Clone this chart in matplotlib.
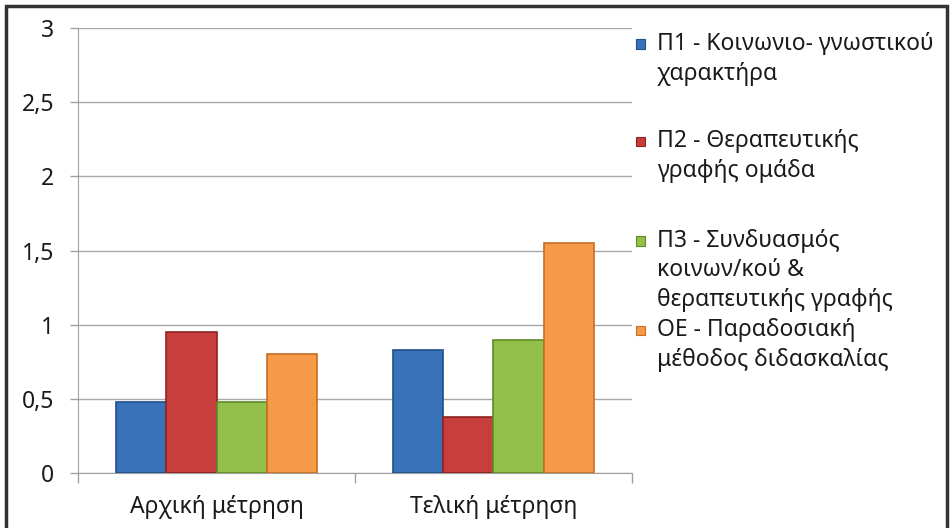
import matplotlib
matplotlib.use("Agg")
import matplotlib.pyplot as plt
from matplotlib.patches import Rectangle
import numpy as np

plt.rcParams['font.family'] = ['Noto Sans', 'DejaVu Sans']

categories = ["Αρχική μέτρηση", "Τελική μέτρηση"]
series_names = ["Π1 - Κοινωνιο- γνωστικού\nχαρακτήρα",
                "Π2 - Θεραπευτικής\nγραφής ομάδα",
                "Π3 - Συνδυασμός\nκοινων/κού &\nθεραπευτικής γραφής",
                "ΟΕ - Παραδοσιακή\nμέθοδος διδασκαλίας"]
p1 = [0.48, 0.83]
p2 = [0.95, 0.38]
p3 = [0.48, 0.90]
oe = [0.80, 1.55]
yticks = [0, 0.5, 1, 1.5, 2, 2.5, 3]
ytick_labels = ["0", "0,5", "1", "1,5", "2", "2,5", "3"]

colors = ["#3A72BA", "#C83E3C", "#93C04A", "#F69A4A"]
edges = ["#1F4E8C", "#8E2422", "#5F8A25", "#C86E24"]
fs = 16.5

W, H = 953, 528
fig = plt.figure(figsize=(W / 100, H / 100), dpi=100)
fig.patch.set_facecolor("white")

ax = fig.add_axes([78 / W, 1 - 473 / H, (632 - 78) / W, (473 - 28) / H])
x = np.arange(len(categories))
bw = 0.1815
for i, vals in enumerate([p1, p2, p3, oe]):
    ax.bar(x + (i - 1.5) * bw, vals, width=bw, color=colors[i],
           edgecolor=edges[i], linewidth=1.2, zorder=3)

ax.set_xlim(-0.5, 1.5)
ax.set_ylim(0, 3)
ax.set_yticks(yticks)
ax.set_yticklabels(ytick_labels, fontsize=fs, color="#1a1a1a")
ax.set_xticks([-0.5, 0.5, 1.5])
ax.set_xticks(x, minor=True)
ax.set_xticklabels(["", "", ""])
ax.set_xticklabels(categories, minor=True, fontsize=fs, color="#1a1a1a")
ax.tick_params(axis="x", which="minor", length=0, pad=16)
ax.tick_params(axis="x", which="major", length=7, color="#A0A0A0", width=1)
ax.tick_params(axis="y", length=6, color="#A0A0A0", width=1, pad=11)
ax.grid(axis="y", color="#A8A8A8", linewidth=1, zorder=0)
for s in ["top", "right"]:
    ax.spines[s].set_visible(False)
ax.spines["left"].set_color("#A0A0A0")
ax.spines["bottom"].set_color("#A0A0A0")

# legend
starts = [44, 141, 241, 330]
step = 29.5
for i, name in enumerate(series_names):
    y0 = starts[i]
    fig.patches.append(Rectangle((636 / W, 1 - (y0 + 4.5) / H), 9 / W, 9 / H,
                                 transform=fig.transFigure, facecolor=colors[i],
                                 edgecolor=edges[i], linewidth=0.8))
    for j, line in enumerate(name.split("\n")):
        fig.text(657 / W, 1 - (y0 + j * step) / H, line, fontsize=fs,
                 va="center", ha="left", color="#1a1a1a")

# outer frame
fig.patches.append(Rectangle((6 / W, -0.05), (947 - 6) / W, 1.05 - 6 / H,
                             transform=fig.transFigure, fill=False,
                             edgecolor="#333333", linewidth=2.5))

fig.savefig("out.png", dpi=100)
